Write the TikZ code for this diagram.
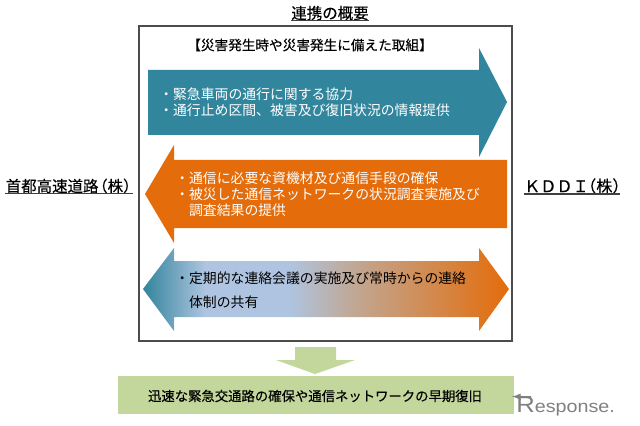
\documentclass[tikz,border=0pt]{standalone}
\usepackage{fontspec}
\setmainfont{Noto Sans CJK JP}
\setsansfont{Liberation Sans}
\newfontfamily\heavy[FakeBold=0.3]{Noto Sans CJK JP}
\usepackage{tikz}
\definecolor{tealfill}{HTML}{31859C}
\definecolor{orangefill}{HTML}{E46C0A}
\definecolor{greenfill}{HTML}{C3D69B}
\definecolor{paleblue}{HTML}{AFC4E0}
\definecolor{tanfill}{HTML}{C2A58F}
\pgfdeclarehorizontalshading{sharedshade}{100bp}{
  color(0bp)=(tealfill);
  color(25bp)=(tealfill);
  color(33.5bp)=(paleblue);
  color(45bp)=(paleblue);
  color(54.5bp)=(tanfill);
  color(75bp)=(orangefill);
  color(100bp)=(orangefill)}
\tikzstyle{frame}=[draw=black!70, line width=0.85pt]
\tikzstyle{big}=[draw=none]
\tikzstyle{rulebar}=[draw=black!75, line width=0.9pt]
\tikzstyle{body}=[inner sep=0pt, anchor=west, align=left, font=\fontsize{9.85pt}{11.2pt}\selectfont]
\tikzstyle{lbl}=[inner sep=0pt, font=\heavy\fontsize{11pt}{12pt}\selectfont]
\begin{document}
\begin{tikzpicture}[x=0.25mm, y=-0.25mm]
				\useasboundingbox (0,0) rectangle (640,426);
				\fill[white] (0,0) rectangle (640,426);

				%The outer box
				\draw[frame] (139,26) rectangle (512,341);

				%The three arrows
				\fill[big, tealfill] (148,70) -- (479,70) -- (479,48) -- (507,102) -- (479,157) -- (479,135) -- (148,135) -- cycle;
				\fill[big, orangefill] (507,160) -- (174,160) -- (174,145) -- (145,194) -- (174,243) -- (174,228) -- (507,228) -- cycle;
				\shade[big, shading=sharedshade] (143,289) -- (174,248) -- (174,261) -- (479,261) -- (479,248) -- (509,289) -- (479,331) -- (479,317) -- (174,317) -- (174,331) -- cycle;

				%The result
				\fill[big, greenfill] (295,347) -- (336,347) -- (336,360) -- (355,360) -- (315,374) -- (276,360) -- (295,360) -- cycle;
				\fill[big, greenfill] (118,376) rectangle (514,414);

				%The labels
				\draw (330,13) node[lbl] (title) {連携の概要};
				\draw (310,45) node[lbl, font=\heavy\fontsize{9.7pt}{12pt}\selectfont] (head) {【災害発生時や災害発生に備えた取組】};
				\draw (69,186) node[lbl] (company) {首都高速道路\kern-4.5pt（株）\kern-4.5pt};
				\draw (572,186) node[lbl, font=\heavy\fontsize{11.5pt}{12pt}\selectfont] (kddi) {ＫＤＤＩ\kern-6.2pt（株）\kern-6.2pt};

				\draw[rulebar] (title.south west) -- (title.south east);
				\draw[rulebar] (company.south west) -- (company.south east);
				\draw[rulebar] (kddi.south west) -- (kddi.south east);

				\draw (159,102.5) node[body, text=white] (txta) {・緊急車両の通行に関する協力\\・通行止め区間、被害及び復旧状況の情報提供};
				\draw (175,194) node[body, text=white, font=\fontsize{9.85pt}{11.4pt}\selectfont] (txtb) {・通信に必要な資機材及び通信手段の確保\\・被災した通信ネットワークの状況調査実施及び\\　調査結果の提供};
				\draw (175,290) node[body, font=\fontsize{9.85pt}{17pt}\selectfont] (txtc) {・定期的な連絡会議の実施及び常時からの連絡\\　体制の共有};
				\draw (315,396) node[lbl, font=\heavy\fontsize{9.5pt}{12pt}\selectfont] (goal) {迅速な緊急交通路の確保や通信ネットワークの早期復旧};

				%The logo
				\draw (516,412) node[inner sep=0pt, anchor=base west, xscale=1.14, text=black!50, font=\sffamily\fontsize{12.3pt}{14pt}\selectfont] (logo) {{\fontsize{16pt}{16pt}\selectfont R}esponse.};
				\coordinate (logotail) at (531,397);
				\coordinate (logotip) at (512,396.5);
				\draw[-latex, draw=black!50, line width=1.1pt] (logotail) -- (logotip);
\end{tikzpicture}
\end{document}
